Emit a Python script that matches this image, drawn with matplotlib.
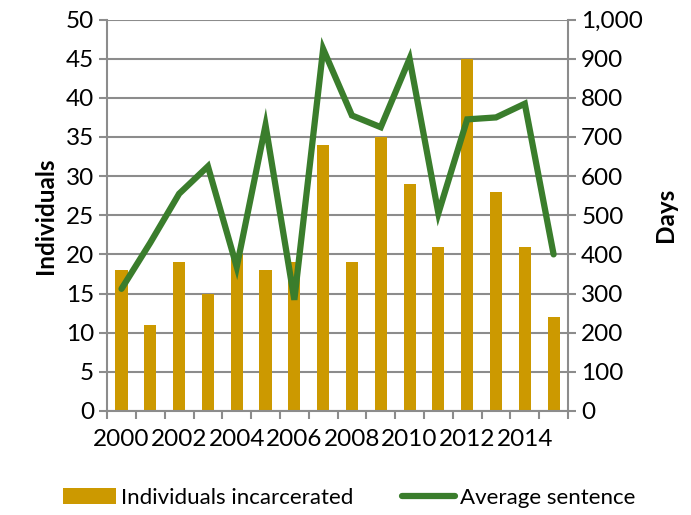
import matplotlib
matplotlib.use("Agg")
import matplotlib.pyplot as plt
from matplotlib.ticker import FuncFormatter, FixedLocator
import numpy as np

years = list(range(2000, 2016))
individuals = [18, 11, 19, 15, 20, 18, 19, 34, 19, 35, 29, 21, 45, 28, 21, 12]
avg_sentence = [312, 430, 555, 625, 368, 730, 284, 925, 755, 725, 900, 505, 745, 750, 785, 400]
year_labels = [str(y) if y % 2 == 0 else "" for y in years]

plt.rcParams['font.family'] = ['Lato', 'DejaVu Sans']

bar_color = "#CC9900"
line_color = "#3A7D2C"
grid_color = "#8C8C8C"
fs = 17.5

fig = plt.figure(figsize=(6.91, 5.15), dpi=100)
ax = fig.add_axes([0.155, 0.202, 0.667, 0.76])
x = np.arange(len(years))

ax.bar(x, individuals, width=0.42, color=bar_color, zorder=2, label="Individuals incarcerated")
ax.set_xlim(-0.5, len(years) - 0.5)
ax.set_ylim(0, 50)
ax.set_yticks(range(0, 51, 5))
ax.yaxis.grid(True, color=grid_color, linewidth=1.5, zorder=0)
ax.set_axisbelow(True)
ax.set_xticks(x)
ax.set_xticklabels(year_labels)
ax.xaxis.set_minor_locator(FixedLocator(np.arange(-0.5, len(years), 1)))
ax.tick_params(axis="x", which="major", length=0, labelsize=fs, pad=13)
ax.tick_params(axis="x", which="minor", length=6, width=1.5, color=grid_color, direction="out")
ax.tick_params(axis="y", labelsize=fs, length=6, width=1.5, color=grid_color)
ax.set_ylabel("Individuals", fontsize=fs, fontweight="bold", labelpad=6)
for s in ["top", "right"]:
    ax.spines[s].set_visible(False)
for s in ["left", "bottom"]:
    ax.spines[s].set_color(grid_color)
    ax.spines[s].set_linewidth(1.5)

ax2 = ax.twinx()
ax2.plot(x, avg_sentence, color=line_color, linewidth=4.5, solid_capstyle="round",
         solid_joinstyle="miter", zorder=3, label="Average sentence")
ax2.set_ylim(0, 1000)
ax2.set_yticks(range(0, 1001, 100))
ax2.yaxis.set_major_formatter(FuncFormatter(lambda v, p: f"{int(v):,}"))
ax2.tick_params(axis="y", labelsize=fs, length=6, width=1.5, color=grid_color)
ax2.set_ylabel("Days", fontsize=fs, fontweight="bold", labelpad=8)
for s in ["top", "left", "bottom"]:
    ax2.spines[s].set_visible(False)
ax2.spines["right"].set_color(grid_color)
ax2.spines["right"].set_linewidth(1.5)

h1, l1 = ax.get_legend_handles_labels()
h2, l2 = ax2.get_legend_handles_labels()
fig.legend(h1 + h2, l1 + l2, loc="lower center", bbox_to_anchor=(0.505, -0.025), ncol=2,
           frameon=False, fontsize=16, handlelength=2.4, columnspacing=2.2, handletextpad=0.2)

fig.savefig("out.png", dpi=100)
